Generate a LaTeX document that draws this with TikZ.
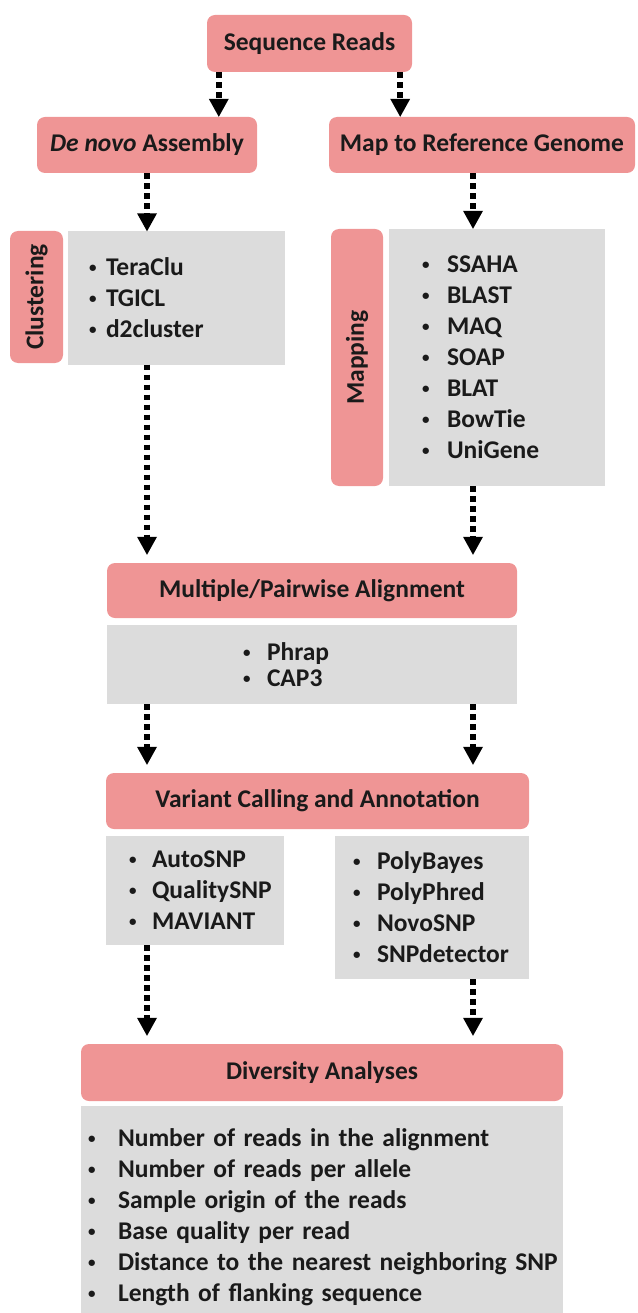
\documentclass[tikz,border=0pt]{standalone}
\usepackage{fontspec}
\setmainfont{Carlito}
\usepackage{xcolor}
\usetikzlibrary{arrows.meta,positioning,calc}
\definecolor{Ink}{HTML}{1A1A1A}
\definecolor{SalmonBox}{HTML}{EF9595}
\definecolor{ToolGray}{HTML}{DCDCDC}
\newcommand{\toolitem}[2][27pt]{\makebox[#1][l]{\hspace{3pt}\raisebox{3pt}{\fontsize{15}{15}\selectfont\textbullet}}#2}

\begin{document}
\begin{tikzpicture}[x=1pt,y=-1pt]
  \path[use as bounding box] (0,0) rectangle (637,1313);

  \tikzset{
    snpHead/.style={
      fill=SalmonBox,
      rounded corners=8pt,
      inner sep=0pt,
      font=\fontsize{25.5}{31}\selectfont\bfseries,
      text=Ink
    },
    snpSide/.style={
      snpHead,
      rotate=90
    },
    snpList/.style={
      fill=ToolGray,
      inner sep=0pt,
      align=left,
      font=\fontsize{25.5}{31}\selectfont\bfseries,
      text=Ink
    },
    snpFlow/.style={
      -{Triangle[length=18pt,width=20pt,line width=0pt]},
      draw=black,
      line width=5.5pt,
      dash pattern=on 5.5pt off 4.5pt
    },
    snpFlowGap/.style={
      snpFlow,
      shorten >=8pt
    }
  }

  \node[snpHead, minimum width=205pt, minimum height=57pt] (reads) at (309.5,43.5)
    {Sequence Reads};
  \node[snpHead, minimum width=220pt, minimum height=56pt] (denovo) at (147,145)
    {\textit{De novo} Assembly};
  \node[snpHead, minimum width=306pt, minimum height=56pt] (mapref) at (482,145)
    {Map to Reference Genome};

  \node[snpSide, minimum width=132pt, minimum height=53pt] (clustering) at (36.5,297)
    {Clustering};
  \node[snpList, minimum width=217pt, minimum height=133pt, text width=181pt] (clustlist) at (176.5,298)
    {\toolitem[20pt]{TeraClu}\\\toolitem[20pt]{TGICL}\\\toolitem[20pt]{d2cluster}};
  \node[snpSide, minimum width=257pt, minimum height=52pt] (mapping) at (357,357.5)
    {Mapping};
  \node[snpList, minimum width=216pt, minimum height=257pt, text width=156pt] (maplist) at (497,357.5)
    {\toolitem[28pt]{SSAHA}\\\toolitem[28pt]{BLAST}\\\toolitem[28pt]{MAQ}\\\toolitem[28pt]{SOAP}\\
     \toolitem[28pt]{BLAT}\\\toolitem[28pt]{BowTie}\\\toolitem[28pt]{UniGene}};

  \node[snpHead, minimum width=410pt, minimum height=55pt] (align) at (312,590.5)
    {Multiple/Pairwise Alignment};
  \node[snpList, minimum width=410pt, minimum height=79pt, text width=144pt] (alignlist) at (312,664.5)
    {\toolitem{Phrap}\\[-5pt]\toolitem{CAP3}};

  \node[snpHead, minimum width=423pt, minimum height=56pt] (variant) at (317.5,801)
    {Variant Calling and Annotation};
  \node[snpList, minimum width=178pt, minimum height=109pt, text width=138pt] (varleft) at (195,890.5)
    {\toolitem[26pt]{AutoSNP}\\\toolitem[26pt]{QualitySNP}\\\toolitem[26pt]{MAVIANT}};
  \node[snpList, minimum width=194pt, minimum height=143pt, text width=164pt] (varright) at (432,907.5)
    {\toolitem{PolyBayes}\\\toolitem{PolyPhred}\\\toolitem{NovoSNP}\\\toolitem{SNPdetector}};

  \node[snpHead, minimum width=482pt, minimum height=57pt] (diversity) at (322,1072.5)
    {Diversity Analyses};
  % the grey list runs on past the lower edge of the page
  \node[snpList, minimum width=482pt, minimum height=222pt, text width=474pt] (divlist) at (322,1217)
    {\toolitem[33pt]{Number of reads in the alignment}\\
     \toolitem[33pt]{Number of reads per allele}\\
     \toolitem[33pt]{Sample origin of the reads}\\
     \toolitem[33pt]{Base quality per read}\\
     \toolitem[33pt]{Distance to the nearest neighboring SNP}\\
     \toolitem[33pt]{Length of flanking sequence}};

  % the two columns that the dotted arrows follow
  \coordinate (colL) at (147,0);
  \coordinate (colR) at (473,0);
  \coordinate (splitL) at ([xshift=12pt]reads.south west);
  \coordinate (splitR) at ([xshift=-12pt]reads.south east);

  \draw[snpFlow] (splitL) -- (splitL |- denovo.north);
  \draw[snpFlow] (splitR) -- (splitR |- mapref.north);
  \draw[snpFlow] (denovo.south -| colL) -- (clustlist.north -| colL);
  \draw[snpFlow] (mapref.south -| colR) -- (maplist.north -| colR);
  \draw[snpFlowGap] (clustlist.south -| colL) -- (align.north -| colL);
  \draw[snpFlowGap] (maplist.south -| colR) -- (align.north -| colR);
  \draw[snpFlowGap] (alignlist.south -| colL) -- (variant.north -| colL);
  \draw[snpFlowGap] (alignlist.south -| colR) -- (variant.north -| colR);
  \draw[snpFlowGap] (varleft.south -| colL) -- (diversity.north -| colL);
  \draw[snpFlowGap] (varright.south -| colR) -- (diversity.north -| colR);
\end{tikzpicture}
\end{document}
